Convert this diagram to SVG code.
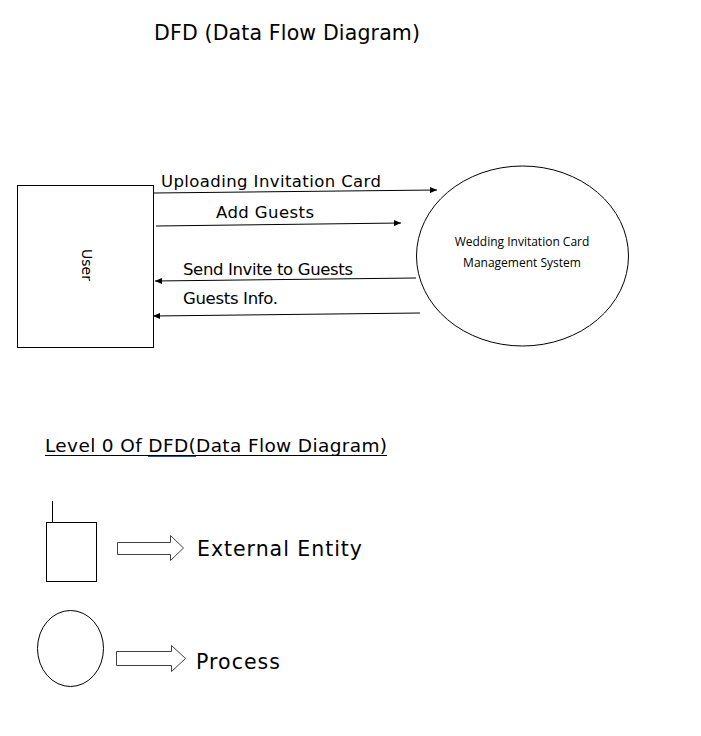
<svg xmlns="http://www.w3.org/2000/svg" width="701" height="736" viewBox="0 0 701 736">
<style>
.t{font-family:"DejaVu Sans",Verdana,sans-serif;fill:#000}
.c{font-family:"Open Sans","Noto Sans",sans-serif;fill:#000;font-size:12px}
.sh{fill:#fff;stroke:#000;stroke-width:1}
.ln{stroke:#000;stroke-width:1;fill:none}
.bl{fill:#fff;stroke:#404040;stroke-width:1}
</style>
<defs>
<marker id="ah" markerWidth="8" markerHeight="6" refX="7" refY="3" orient="auto" markerUnits="userSpaceOnUse">
<path d="M0,0 L7,3 L0,6 Z" fill="#000"/>
</marker>
</defs>
<rect width="701" height="736" fill="#fff"/>
<text class="t" x="154" y="40" font-size="20.5" textLength="266">DFD (Data Flow Diagram)</text>

<g id="user">
<rect class="sh" x="17.5" y="185.5" width="136" height="162"/>
<text class="t" font-size="14" transform="translate(82,265) rotate(90)" text-anchor="middle">User</text>
</g>

<g id="system">
<ellipse class="sh" cx="522.5" cy="256" rx="106" ry="90"/>
<text class="c" x="522" y="246" text-anchor="middle">Wedding Invitation Card</text>
<text class="c" x="522" y="267" text-anchor="middle">Management System</text>
</g>

<g id="connectors">
<line class="ln" x1="154" y1="193" x2="437" y2="190" marker-end="url(#ah)"/>
<line class="ln" x1="156" y1="226" x2="401" y2="223" marker-end="url(#ah)"/>
<line class="ln" x1="416" y1="278" x2="155" y2="281" marker-end="url(#ah)"/>
<line class="ln" x1="420" y1="313" x2="153" y2="316" marker-end="url(#ah)"/>
<text class="t" x="161" y="187" font-size="16.5" textLength="220">Uploading Invitation Card</text>
<text class="t" x="216" y="218" font-size="16.5" textLength="98">Add Guests</text>
<text class="t" x="183" y="275" font-size="16.5" textLength="170">Send Invite to Guests</text>
<text class="t" x="183" y="304" font-size="16.5" textLength="95">Guests Info.</text>
</g>

<g id="legend-title">
<text class="t" x="45" y="452" font-size="18.5" textLength="342">Level 0 Of DFD(Data Flow Diagram)</text>
<line x1="45" y1="455.5" x2="387" y2="455.5" stroke="#000" stroke-width="1"/>
<line x1="148" y1="456.5" x2="196" y2="456.5" stroke="#2050c0" stroke-width="1.2"/>
</g>

<g id="legend-entity">
<line class="ln" x1="52.5" y1="501" x2="52.5" y2="522"/>
<rect class="sh" x="46.5" y="522.5" width="50" height="59"/>
<path class="bl" d="M117.5,542.5 H170.5 V535.5 L183.5,548 L170.5,560.5 V554.5 H117.5 Z"/>
<text class="t" x="197" y="556" font-size="20.5" textLength="165">External Entity</text>
</g>

<g id="legend-process">
<ellipse class="sh" cx="70.5" cy="648.5" rx="33" ry="38"/>
<path class="bl" d="M116.5,651.5 H171.5 V645.5 L185.5,658.5 L171.5,671.5 V665.5 H116.5 Z"/>
<text class="t" x="196" y="669" font-size="20.5" textLength="84">Process</text>
</g>
</svg>
